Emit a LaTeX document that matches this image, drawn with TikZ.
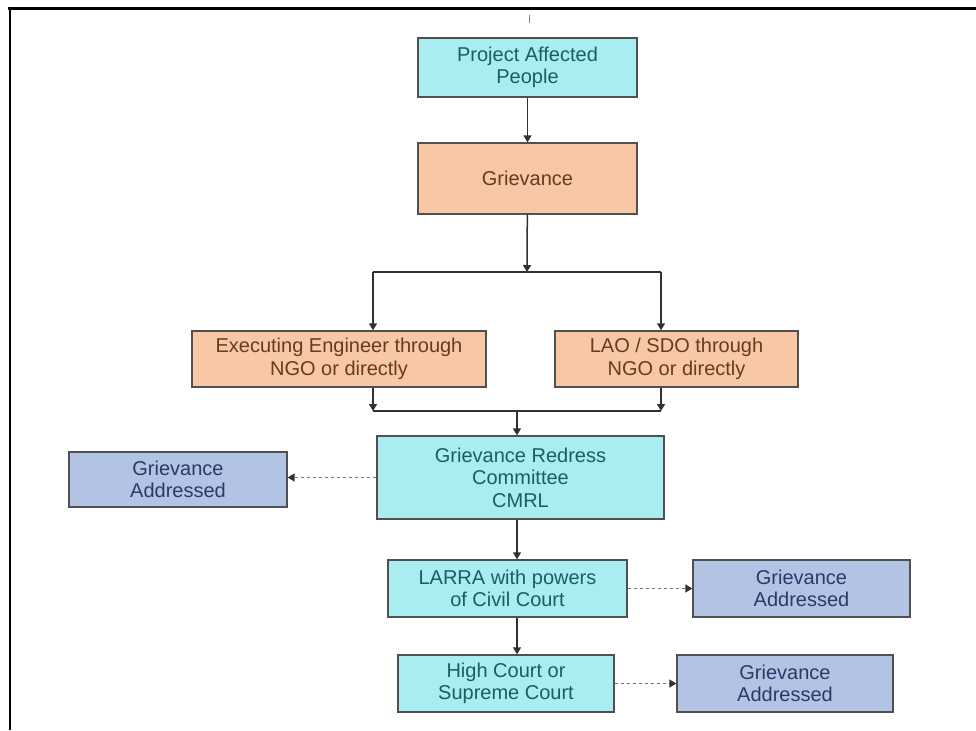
\documentclass[tikz,border=0pt]{standalone}
\usepackage{fontspec}
\setmainfont{Liberation Sans}
\usepackage{tikz}
\usetikzlibrary{arrows.meta}
\usetikzlibrary{positioning}
\definecolor{aqua}{HTML}{A9EDF0}
\definecolor{aquatext}{HTML}{1D5C63}
\definecolor{peach}{HTML}{F8C8A6}
\definecolor{peachtext}{HTML}{663C1E}
\definecolor{slate}{HTML}{B3C3E4}
\definecolor{slatetext}{HTML}{2A3A68}
\definecolor{edgegrey}{HTML}{505050}
\definecolor{linegrey}{HTML}{303030}

\begin{document}
\begin{tikzpicture}[x=1pt,y=-1pt,
  font=\fontsize{20}{22.5}\selectfont,
  box/.style = {draw=edgegrey,line width=1.4pt,align=center,inner sep=0pt},
  cyanbox/.style = {box,fill=aqua,text=aquatext},
  peachbox/.style = {box,fill=peach,text=peachtext},
  bluebox/.style = {box,fill=slate,text=slatetext},
  tip/.style = {-{Triangle[length=7pt,width=8pt]}},
  line/.style = {draw=linegrey,line width=1.5pt},
  dotarrow/.style = {draw=gray!90!black,line width=1.6pt,dash pattern=on 3pt off 3pt,
  -{Triangle[length=7pt,width=8pt,color=linegrey]}}]
 \useasboundingbox (0,0) rectangle (976,730);
 % frame
 \draw[line width=3pt] (8,9) -- (976,9);
 \draw[line width=2.5pt] (10,8) -- (10,730);
 \draw[gray,line width=1pt] (529,15) -- (529,23);
 % main column
 \node[cyanbox,minimum width=219,minimum height=59] (pap) at (527.5,67.5) {Project Affected\\People};
 \node[peachbox,minimum width=219,minimum height=71] (griev) at (527.5,178.5) {Grievance};
 \node[peachbox,minimum width=294,minimum height=56] (exec) at (339,359) {Executing Engineer through\\NGO or directly};
 \node[peachbox,minimum width=243,minimum height=56] (lao) at (676.5,359) {LAO / SDO through\\NGO or directly};
 \node[cyanbox,minimum width=287,minimum height=83] (grc) at (520.5,477.5) {Grievance Redress\\Committee\\CMRL};
 \node[cyanbox,minimum width=239,minimum height=57] (larra) at (507.5,588.5) {LARRA with powers\\of Civil Court};
 \node[cyanbox,minimum width=216,minimum height=57] (hc) at (506,683.5) {High Court or\\Supreme Court};
 % outcomes
 \node[bluebox,minimum width=218,minimum height=55] (gaL) at (178,479.5) {Grievance\\Addressed};
 \node[bluebox,minimum width=217,minimum height=57] (gaR1) at (801.5,588.5) {Grievance\\Addressed};
 \node[bluebox,minimum width=216,minimum height=57] (gaR2) at (785,683.5) {Grievance\\Addressed};
 % split and join points
 \coordinate (split) at (527,272);
 \coordinate (splitL) at (373,272);
 \coordinate (splitR) at (661,272);
 \coordinate (joinL) at (373,411);
 \coordinate (joinR) at (661,411);
 \coordinate (join) at (517,411);
 \begin{scope}[line]
  \draw[tip] (pap) -- (griev);
  \draw[tip] (griev) -- (split);
  \draw (splitL) -- (splitR);
  \draw[tip] (splitL) -- (splitL |- exec.north);
  \draw[tip] (splitR) -- (splitR |- lao.north);
  \draw[tip] (joinL |- exec.south) -- (joinL);
  \draw[tip] (joinR |- lao.south) -- (joinR);
  \draw (joinL) -- (joinR);
  \draw[tip] (join) -- (join |- grc.north);
  \draw[tip] (join |- grc.south) -- (join |- larra.north);
  \draw[tip] (join |- larra.south) -- (join |- hc.north);
 \end{scope}
 \draw[dotarrow] (grc.west) -- (grc.west -| gaL.east);
 \draw[dotarrow] (larra.east) -- (gaR1.west);
 \draw[dotarrow] (hc.east) -- (gaR2.west);
\end{tikzpicture}
\end{document}
